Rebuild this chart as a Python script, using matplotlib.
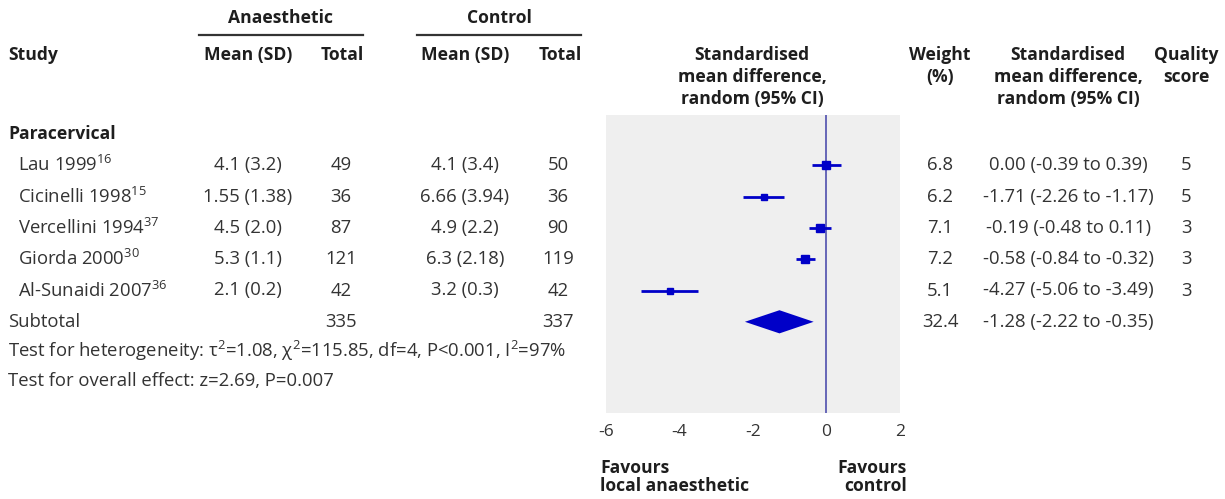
import matplotlib
matplotlib.use("Agg")
import matplotlib.pyplot as plt
import matplotlib.transforms as mtransforms
import numpy as np

plt.rcParams.update({
    'font.family': ['Open Sans', 'DejaVu Sans'],
    'mathtext.fontset': 'custom',
    'mathtext.rm': 'Open Sans',
    'mathtext.it': 'Open Sans:italic',
    'mathtext.bf': 'Open Sans:bold',
    'axes.unicode_minus': False,
})

# data
studies = ['Lau 1999', 'Cicinelli 1998', 'Vercellini 1994', 'Giorda 2000', 'Al-Sunaidi 2007']
refs = ['16', '15', '37', '30', '36']
anaes_mean_sd = ['4.1 (3.2)', '1.55 (1.38)', '4.5 (2.0)', '5.3 (1.1)', '2.1 (0.2)']
anaes_total = [49, 36, 87, 121, 42]
ctrl_mean_sd = ['4.1 (3.4)', '6.66 (3.94)', '4.9 (2.2)', '6.3 (2.18)', '3.2 (0.3)']
ctrl_total = [50, 36, 90, 119, 42]
smd = [0.00, -1.71, -0.19, -0.58, -4.27]
ci_low = [-0.39, -2.26, -0.48, -0.84, -5.06]
ci_high = [0.39, -1.17, 0.11, -0.32, -3.49]
weights = [6.8, 6.2, 7.1, 7.2, 5.1]
quality = [5, 5, 3, 3, 3]

sub_anaes_total = 335
sub_ctrl_total = 337
sub_weight = 32.4
sub_smd, sub_low, sub_high = -1.28, -2.22, -0.35

x_ticks = [-6, -4, -2, 0, 2]

W, H = 1225, 499
TXT = '#333333'
HDR = '#1e1e1e'
BLUE = '#0000c8'
FS = 13.3      # body text
FSB = 12.6     # bold headers

fig = plt.figure(figsize=(W / 100, H / 100), dpi=100)

# table overlay in pixel coordinates
tab = fig.add_axes([0, 0, 1, 1])
tab.set_xlim(0, W)
tab.set_ylim(H, 0)
tab.axis('off')

# forest panel
fl, fr, ft, fb = 606, 900, 115, 413
ax = fig.add_axes([fl / W, (H - fb) / H, (fr - fl) / W, (fb - ft) / H])
row0, row_h = 134, 31.3
ax.set_xlim(-6, 2)
ax.set_ylim((fb - row0) / row_h, (ft - row0) / row_h)
ax.set_facecolor('#efefef')
for s in ax.spines.values():
    s.set_visible(False)
ax.set_yticks([])
ax.set_xticks(x_ticks)
ax.set_xticklabels([str(t) for t in x_ticks])
ax.tick_params(axis='x', length=0, pad=8, labelsize=12.5, labelcolor=TXT)
ax.axvline(0, color='#4f4fae', lw=1.2, zorder=1)

rows = np.arange(1, len(studies) + 1)
for i, r in enumerate(rows):
    ax.plot([ci_low[i], ci_high[i]], [r, r], color=BLUE, lw=2.0, solid_capstyle='butt', zorder=2)
    ax.plot(smd[i], r, marker='s', color=BLUE, markersize=np.sqrt(weights[i]) * 1.95, zorder=3)
sub_row = len(studies) + 1
ax.fill([sub_low, sub_smd, sub_high, sub_smd], [sub_row, sub_row - 0.37, sub_row, sub_row + 0.37],
        color=BLUE, lw=0, zorder=3)

# row text uses forest y scale
rt = mtransforms.blended_transform_factory(tab.transData, ax.transData)

def rtext(x, r, s, **kw):
    kw.setdefault('color', TXT)
    kw.setdefault('fontsize', FS)
    tab.text(x, r, s, transform=rt, va='center', **kw)

# headers
def htext(x, y, s, ha='center'):
    tab.text(x, y, s, ha=ha, va='center', fontsize=FSB, fontweight='bold', color=HDR)

htext(281, 18, 'Anaesthetic')
htext(499, 18, 'Control')
tab.plot([199, 363], [35, 35], color='#333333', lw=1.6)
tab.plot([417, 581], [35, 35], color='#333333', lw=1.6)
htext(8, 55, 'Study', ha='left')
htext(248, 55, 'Mean (SD)')
htext(342, 55, 'Total')
htext(465, 55, 'Mean (SD)')
htext(560, 55, 'Total')
for y, s in zip([55, 77, 99], ['Standardised', 'mean difference,', 'random (95% CI)']):
    htext(752, y, s)
    htext(1068, y, s)
htext(940, 55, 'Weight')
htext(940, 77, '(%)')
htext(1186, 55, 'Quality')
htext(1186, 77, 'score')

rtext(8, 0, 'Paracervical', fontweight='bold', color=HDR, fontsize=FSB)
for i, r in enumerate(rows):
    rtext(18, r, studies[i] + '$^{' + refs[i] + '}$')
    rtext(248, r, anaes_mean_sd[i], ha='center')
    rtext(341, r, str(anaes_total[i]), ha='center')
    rtext(465, r, ctrl_mean_sd[i], ha='center')
    rtext(558, r, str(ctrl_total[i]), ha='center')
    rtext(940, r, f'{weights[i]:.1f}', ha='center')
    rtext(1068, r, f'{smd[i]:.2f} ({ci_low[i]:.2f} to {ci_high[i]:.2f})', ha='center')
    rtext(1186, r, str(quality[i]), ha='center')

rtext(8, sub_row, 'Subtotal')
rtext(341, sub_row, str(sub_anaes_total), ha='center')
rtext(558, sub_row, str(sub_ctrl_total), ha='center')
rtext(940, sub_row, f'{sub_weight:.1f}', ha='center')
rtext(1068, sub_row, f'{sub_smd:.2f} ({sub_low:.2f} to {sub_high:.2f})', ha='center')
rtext(8, sub_row + 0.93, 'Test for heterogeneity: τ$^{2}$=1.08, χ$^{2}$=115.85, df=4, P<0.001, I$^{2}$=97%')
rtext(8, sub_row + 1.88, 'Test for overall effect: z=2.69, P=0.007')

tab.text(600, 477, 'Favours\nlocal anaesthetic', ha='left', va='center', fontsize=FSB,
         fontweight='bold', color=HDR, linespacing=1.0)
tab.text(907, 477, 'Favours\ncontrol', ha='right', va='center', fontsize=FSB,
         fontweight='bold', color=HDR, linespacing=1.0, multialignment='right')

fig.savefig('out.png', dpi=100)
